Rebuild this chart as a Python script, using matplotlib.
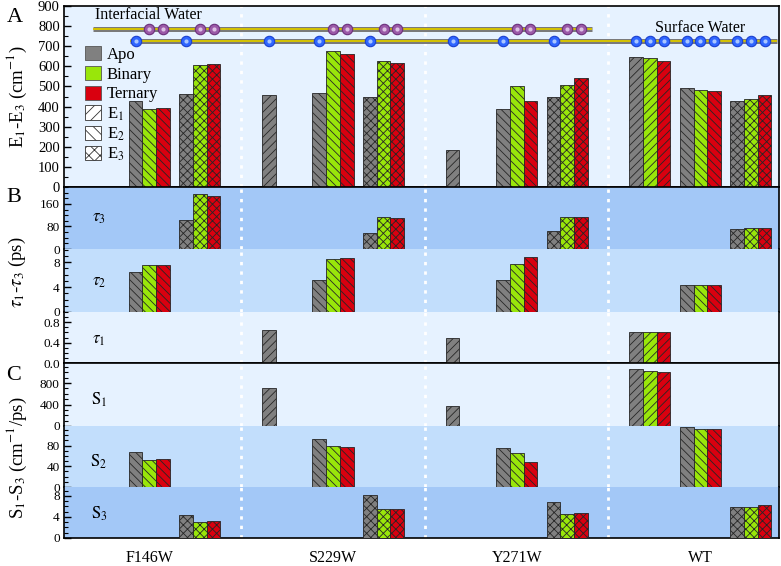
import numpy as np
import matplotlib
matplotlib.use('Agg')
import matplotlib.pyplot as plt
from matplotlib.patches import Patch
from matplotlib.ticker import MultipleLocator, FormatStrFormatter

plt.rcParams['font.family'] = ['Liberation Serif', 'DejaVu Serif']
plt.rcParams['mathtext.fontset'] = 'stix'
plt.rcParams['hatch.linewidth'] = 0.6

nan = np.nan

# --- data (rows: Apo, Binary, Ternary; columns: groups) ---
groups = ['F146W', 'S229W', 'Y271W', 'WT']
states = ['Apo', 'Binary', 'Ternary']

E1 = [[nan, 457, 184, 646],
      [nan, nan, nan, 641],
      [nan, nan, nan, 625]]
E2 = [[427, 467, 388, 492],
      [388, 676, 500, 482],
      [394, 659, 427, 479]]
E3 = [[464, 449, 447, 426],
      [606, 626, 507, 439],
      [610, 616, 543, 457]]

tau1 = [[nan, 0.64, 0.50, 0.60],
        [nan, nan, nan, 0.61],
        [nan, nan, nan, 0.60]]
tau2 = [[6.35, 5.07, 5.12, 4.32],
        [7.50, 8.48, 7.73, 4.37],
        [7.47, 8.64, 8.75, 4.32]]
tau3 = [[103, 56, 65, 70],
        [194, 113, 113, 73],
        [188, 109, 113, 73]]

S1 = [[nan, 707, 372, 1060],
      [nan, nan, nan, 1034],
      [nan, nan, nan, 1004]]
S2 = [[67.6, 92.7, 75.9, 115.9],
      [52.7, 79.8, 65.7, 112.6],
      [53.3, 77.3, 48.9, 112.0]]
S3 = [[4.43, 8.1, 6.76, 5.95],
      [3.10, 5.5, 4.56, 5.89],
      [3.23, 5.5, 4.75, 6.19]]

# water type shown above each bar of panel A (I = interfacial, S = surface)
water_E1 = [['', 'S', 'S', 'S'], ['', '', '', 'S'], ['', '', '', 'S']]
water_E2 = [['S', 'S', 'S', 'S'], ['I', 'I', 'I', 'S'], ['I', 'I', 'I', 'S']]
water_E3 = [['S', 'S', 'S', 'S'], ['I', 'I', 'I', 'S'], ['I', 'I', 'I', 'S']]

colors = ['#808080', '#99e60a', '#d9000f']
hatches = ['////', '\\\\\\\\', 'xxxx']
bg_light, bg_mid, bg_dark = '#e6f2ff', '#c2defc', '#a3c8f7'

# --- layout (pixel based) ---
W, H = 781, 566
X0, X1 = 64, 779
GROUP_W, SLOT_W, BAR_W = 183.7, 50.5, 13.7
G0 = 57.3


def xpos(g, s, k):
    return G0 + GROUP_W * g + 41.5 + SLOT_W * s + (k - 1) * BAR_W


fig = plt.figure(figsize=(W / 100, H / 100), dpi=100)


def make_axes(ytop, ybot, bg):
    ax = fig.add_axes([X0 / W, 1 - ybot / H, (X1 - X0) / W, (ybot - ytop) / H])
    ax.set_facecolor(bg)
    ax.set_xlim(X0, X1)
    ax.set_xticks([])
    for sp in ax.spines.values():
        sp.set_linewidth(1.2)
    for b in range(1, 4):
        ax.axvline(G0 + GROUP_W * b, color='white', lw=2,
                   ls=(0, (1.2, 2.2)), zorder=1)
    ax.tick_params(axis='y', which='both', direction='in', labelsize=10.5,
                   pad=3)
    ax.tick_params(axis='y', which='major', length=5, width=1)
    ax.tick_params(axis='y', which='minor', length=3, width=0.8)
    return ax


def draw_bars(ax, vals, s):
    for k in range(3):
        xs, hs = [], []
        for g in range(4):
            if not np.isnan(vals[k][g]):
                xs.append(xpos(g, s, k))
                hs.append(vals[k][g])
        ax.bar(xs, hs, width=BAR_W, color=colors[k], hatch=hatches[s],
               edgecolor='#262626', linewidth=0.6, zorder=3)


# Panel A
axA = make_axes(6, 187, bg_light)
for s, vals in enumerate([E1, E2, E3]):
    draw_bars(axA, vals, s)
axA.set_ylim(0, 900)
axA.yaxis.set_major_locator(MultipleLocator(100))
axA.yaxis.set_minor_locator(MultipleLocator(50))

# water schematic
yI, yS = 785, 726
ix, sx = [], []
for s, wat in enumerate([water_E1, water_E2, water_E3]):
    for k in range(3):
        for g in range(4):
            if wat[k][g] == 'I':
                ix.append(xpos(g, s, k))
            elif wat[k][g] == 'S':
                sx.append(xpos(g, s, k))
ix, sx = sorted(ix), sorted(sx)
for y, xs, x_a, x_b in [(yI, ix, ix[0] - 56, ix[-1] + 11),
                        (yS, sx, sx[0] - 6, sx[-1] + 12)]:
    axA.plot([x_a, x_b], [y, y], color='#7a7a7a', lw=3.6,
             solid_capstyle='butt', zorder=4)
    axA.plot([x_a, x_b], [y, y], color='#d6c400', lw=1.4,
             solid_capstyle='butt', zorder=4)
axA.plot(ix, [yI] * len(ix), 'o', ms=7.5, mfc='#9b5aa8', mec='#6b2f7c',
         mew=0.8, zorder=5)
axA.plot(ix, [yI] * len(ix), 'o', ms=3, mfc='#dcc0e4', mec='none', zorder=6)
axA.plot(sx, [yS] * len(sx), 'o', ms=7.5, mfc='#2f66ff', mec='#1a3fcf',
         mew=0.8, zorder=5)
axA.plot(sx, [yS] * len(sx), 'o', ms=3, mfc='#a9c6ff', mec='none', zorder=6)
axA.text(95, 855, 'Interfacial Water', fontsize=11.5, va='center',
         ha='left', zorder=6)
axA.text(745, 792, 'Surface Water', fontsize=11.5, va='center',
         ha='right', zorder=6)

handles = [Patch(facecolor=c, edgecolor='#555555', lw=0.6) for c in colors]
handles += [Patch(facecolor='white', edgecolor='#333333', hatch=h, lw=0.6)
            for h in ['///', '\\\\\\', 'xxx']]
labels = states + [r'E$_1$', r'E$_2$', r'E$_3$']
axA.legend(handles, labels, loc='upper left',
           bbox_to_anchor=((85 - X0) / (X1 - X0), (187 - 46) / 181),
           frameon=False, fontsize=12, handlelength=0.95, handleheight=0.95,
           handletextpad=0.35, labelspacing=0.17, borderpad=0,
           borderaxespad=0)

# Panels B and C
bands = [
    # ytop, ybot, values, slot, ylim, major, minor, bg, fmt
    (187, 249, tau3, 2, 220, 80, 20, bg_dark, '%d'),
    (249, 312, tau2, 1, 10.1, 4, 1, bg_mid, '%d'),
    (312, 363, tau1, 0, 1.0, 0.4, 0.1, bg_light, '%.1f'),
    (363, 426, S1, 0, 1175, 400, 100, bg_light, '%d'),
    (426, 487, S2, 1, 118, 40, 10, bg_mid, '%d'),
    (487, 538, S3, 2, 9.7, 4, 1, bg_dark, '%d'),
]
band_axes = []
for i, (yt, yb, vals, s, ymax, maj, mnr, bg, fmt) in enumerate(bands):
    ax = make_axes(yt, yb, bg)
    draw_bars(ax, vals, s)
    ax.set_ylim(0, ymax)
    ax.yaxis.set_major_locator(MultipleLocator(maj))
    ax.yaxis.set_minor_locator(MultipleLocator(mnr))
    ax.yaxis.set_major_formatter(FormatStrFormatter(fmt))
    ax.tick_params(axis='y', which='major', labelsize=9.5)
    if i in (0, 3):
        ax.spines['bottom'].set_visible(False)
    elif i in (1, 4):
        ax.spines['bottom'].set_visible(False)
        ax.spines['top'].set_visible(False)
    else:
        ax.spines['top'].set_visible(False)
    band_axes.append(ax)

axC = band_axes[-1]
axC.set_xticks([xpos(g, 1, 1) for g in range(4)])
axC.set_xticklabels(groups, fontsize=11.5)
axC.tick_params(axis='x', length=0, pad=9)


def fpos(px, py):
    return px / W, 1 - py / H


band_labels = [(r'$\tau_3$', 218), (r'$\tau_2$', 282), (r'$\tau_1$', 340),
               (r'$\mathrm{S}_1$', 400), (r'$\mathrm{S}_2$', 462),
               (r'$\mathrm{S}_3$', 514)]
for txt, py in band_labels:
    fig.text(*fpos(99, py), txt, fontsize=12, ha='center', va='center')

fig.text(*fpos(15, 18), 'A', fontsize=16, ha='center', va='center')
fig.text(*fpos(14, 197), 'B', fontsize=16, ha='center', va='center')
fig.text(*fpos(14, 376), 'C', fontsize=16, ha='center', va='center')

fig.text(*fpos(17, 97), r'E$_1$-E$_3$ (cm$^{-1}$)', rotation=90,
         fontsize=13.5, ha='center', va='center')
fig.text(*fpos(17, 272), r'$\tau_1$-$\tau_3$ (ps)', rotation=90,
         fontsize=13.5, ha='center', va='center')
fig.text(*fpos(17, 458), r'S$_1$-S$_3$ (cm$^{-1}$/ps)', rotation=90,
         fontsize=13.5, ha='center', va='center')

fig.savefig('out.png', dpi=100)
